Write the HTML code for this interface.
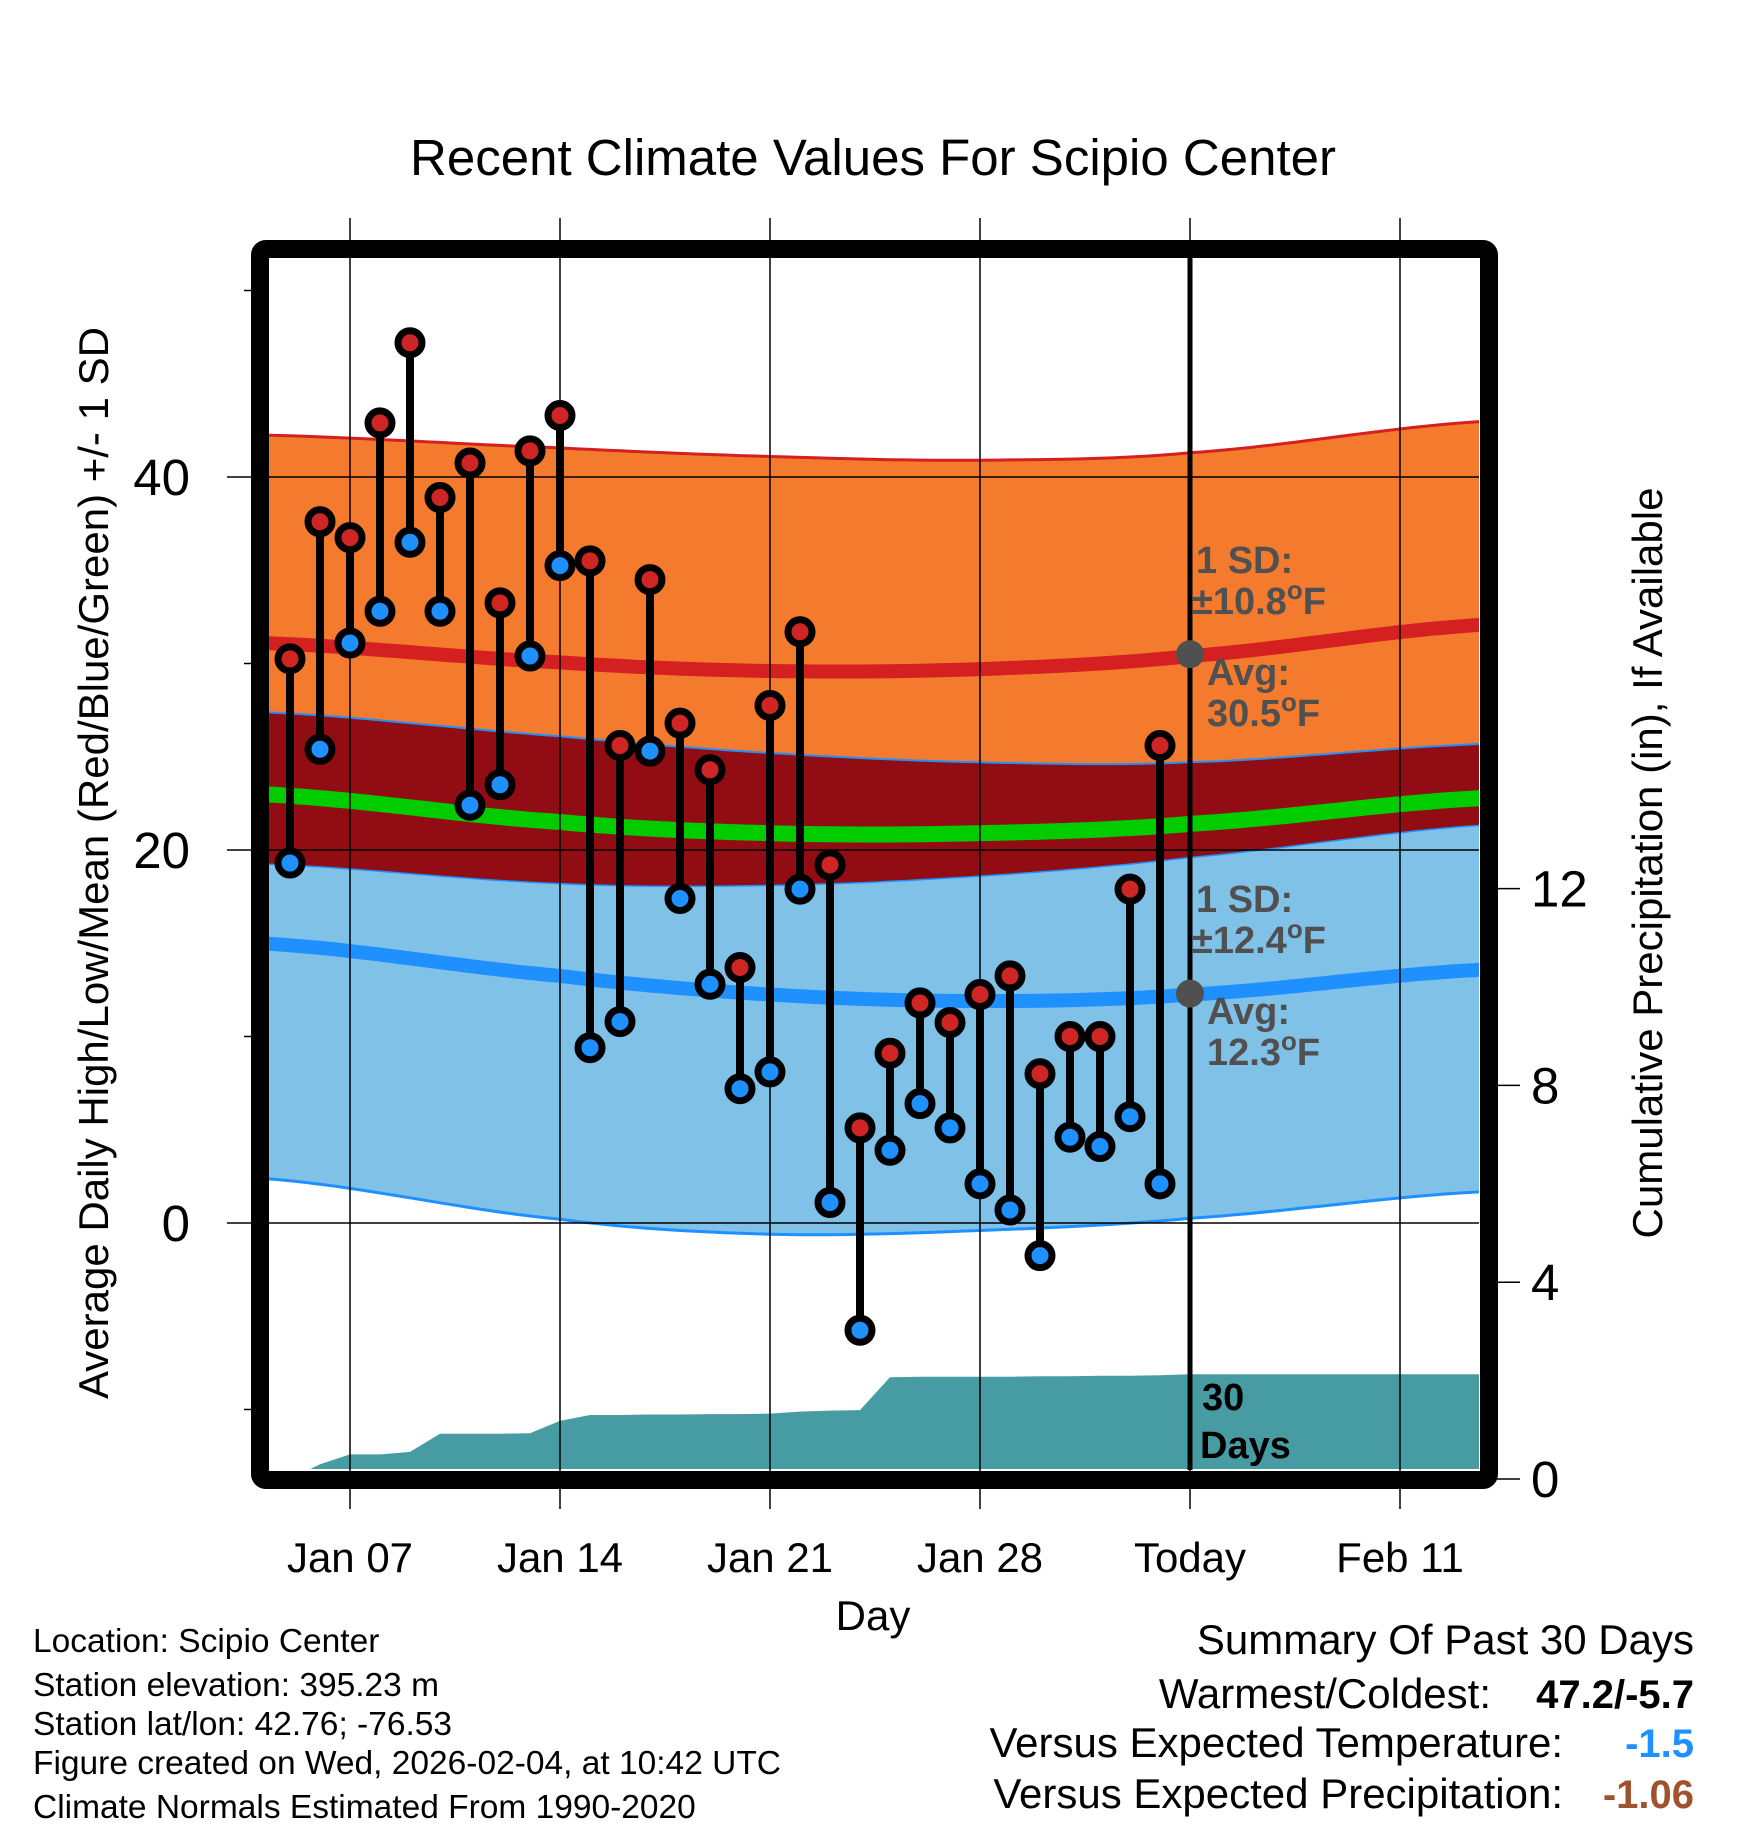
<!DOCTYPE html>
<html><head><meta charset="utf-8">
<style>
html,body{margin:0;padding:0;background:#fff;}
svg{display:block;font-family:"Liberation Sans",Arial,sans-serif;}
</style></head>
<body>
<svg id="chart" width="1748" height="1828" viewBox="0 0 1748 1828" xmlns="http://www.w3.org/2000/svg">
<defs><clipPath id="plotclip"><rect x="268" y="257" width="1211" height="1212"/></clipPath></defs>
<text x="873" y="175" font-size="51" text-anchor="middle">Recent Climate Values For Scipio Center</text>
<g id="plot" clip-path="url(#plotclip)"></g>
<g id="over"></g>
</svg>
<script>
// ---- data ----
const days = [5,6,7,8,9,10,11,12,13,14,15,16,17,18,19,20,21,22,23,24,25,26,27,28,29,30,31,32,33,34];
const highs = [30.25,37.6,36.75,42.9,47.2,38.9,40.75,33.25,41.4,43.3,35.5,25.6,34.5,26.8,24.3,13.7,27.75,31.7,19.2,5.1,9.1,11.8,10.75,12.25,13.25,8.0,10.0,10.0,17.9,25.6];
const lows = [19.3,25.4,31.1,32.8,36.5,32.8,22.4,23.5,30.4,35.25,9.4,10.8,25.3,17.4,12.8,7.2,8.1,17.9,1.1,-5.75,3.9,6.4,5.1,2.1,0.7,-1.75,4.6,4.1,5.7,2.1];
const precip = [0,0.3,0.5,0.5,0.55,0.92,0.92,0.92,0.93,1.18,1.3,1.3,1.31,1.31,1.32,1.32,1.33,1.37,1.39,1.4,2.07,2.08,2.08,2.08,2.08,2.09,2.09,2.1,2.1,2.11];
const precipTail = 2.13;
const normDays = [4,14,21,28,35,45];
const normHighAvg = [31.1,30.06,29.6,29.7,30.4,32.1];
const normHighTop = [42.25,41.56,41.1,40.9,41.3,43.0];
const normHighBot = [27.4,26.1,25.2,24.7,24.7,25.7];
const normLowAvg = [15.0,13.25,12.25,11.9,12.25,13.6];
const normLowTop = [19.25,18.2,18.1,18.6,19.6,21.35];
const normLowBot = [2.4,0.2,-0.6,-0.4,0.25,1.7];
const normMean = [23.0,21.5,20.9,20.9,21.4,22.8];
const xTickDays = [7,14,21,28,35,42];
const xTickLabels = ["Jan 07","Jan 14","Jan 21","Jan 28","Today","Feb 11"];
const yTicks = [0,20,40];
const yMinor = [-10,10,30,50];
const pTicks = [0,4,8,12];
const todayDay = 35;

// ---- axes ----
const X = d => 350 + (d-7)*30;
const Y = t => 1223 - t*18.65;
const P = p => 1479 - p*49.2;
const NS = "http://www.w3.org/2000/svg";
const plot = document.getElementById('plot');
const over = document.getElementById('over');
function mk(tag, attrs, parent){ const e=document.createElementNS(NS,tag); for(const k in attrs) e.setAttribute(k,attrs[k]); parent.appendChild(e); return e; }

function interp(arr){
  const pts=[];
  for(let d=4; d<=45.01; d+=0.5){
    let i=0; while(i<normDays.length-2 && d>normDays[i+1]) i++;
    const t=(d-normDays[i])/(normDays[i+1]-normDays[i]);
    const p0=arr[Math.max(i-1,0)],p1=arr[i],p2=arr[i+1],p3=arr[Math.min(i+2,arr.length-1)];
    const v=0.5*((2*p1)+(-p0+p2)*t+(2*p0-5*p1+4*p2-p3)*t*t+(-p0+3*p1-3*p2+p3)*t*t*t);
    pts.push([X(d),Y(v)]);
  }
  return pts;
}
const path = pts => pts.map((p,i)=>(i?'L':'M')+p[0].toFixed(1)+','+p[1].toFixed(1)).join(' ');
function band(a,b,fill,name){
  const A=interp(a), B=interp(b).reverse();
  const e=mk('path',{d:path(A.concat(B))+'Z',fill:fill},plot);
  
  
}
band(normHighTop,normHighBot,'#f47a2e','high-sd-band');
band(normHighBot,normLowTop,'#920c14','overlap-band');
band(normLowTop,normLowBot,'#80c1e8','low-sd-band');
function line(a,color,w,name){
  const e=mk('path',{d:path(interp(a)),fill:'none',stroke:color,'stroke-width':w},plot);
  
  
}
line(normHighTop,'#d42020',3,'high-plus-sd-line');
line(normHighBot,'#1e90ff',2,'high-minus-sd-line');
line(normLowTop,'#1e90ff',1.5,'low-plus-sd-line');
line(normLowBot,'#1e90ff',3,'low-minus-sd-line');
line(normHighAvg,'#d42020',14,'normal-high-line');
line(normLowAvg,'#1e90ff',14,'normal-low-line');
line(normMean,'#00cc00',16,'normal-mean-line');

// precip area
{
  let d='M'+X(days[0])+','+P(0);
  days.forEach((dd,i)=>{ d+=' L'+X(dd)+','+P(precip[i]).toFixed(1); });
  d+=' L'+X(todayDay)+','+P(precipTail)+' L1480,'+P(precipTail)+' L1480,'+P(0)+'Z';
  const e=mk('path',{d:d,fill:'#479ba3'},plot);
  
  
}

// grid
yTicks.forEach(t=>{
  const e=mk('line',{x1:227,x2:1479,y1:Y(t),y2:Y(t),stroke:'#000','stroke-width':1.5},over);
  
  
  const l=mk('text',{x:190,y:Y(t)+18,'font-size':51,'text-anchor':'end'},over);
  l.textContent=t;
  
  
});
yMinor.forEach(t=>{
  const e=mk('line',{x1:244,x2:260,y1:Y(t),y2:Y(t),stroke:'#000','stroke-width':1.5},over);
  
  
});
xTickDays.forEach((d,i)=>{
  const e=mk('line',{x1:X(d),x2:X(d),y1:218,y2:1509,stroke:'#000','stroke-width':1.5},over);
  
  
  const l=mk('text',{x:X(d),y:1572,'font-size':42,'text-anchor':'middle'},over);
  l.textContent=xTickLabels[i];
  
  
});
pTicks.forEach(p=>{
  const e=mk('line',{x1:1490,x2:1520,y1:P(p),y2:P(p),stroke:'#000','stroke-width':1.5},over);
  
  
  const l=mk('text',{x:1531,y:P(p)+18,'font-size':51},over);
  l.textContent=p;
  
  
});

// today line
{
  const e=mk('line',{x1:X(todayDay),x2:X(todayDay),y1:257,y2:1470,stroke:'#000','stroke-width':5},over);
  
  
}

// markers
days.forEach((d,i)=>{
  const s=mk('line',{x1:X(d),x2:X(d),y1:Y(highs[i]),y2:Y(lows[i]),stroke:'#000','stroke-width':8},over);
  
  
});
days.forEach((d,i)=>{
  const h=mk('circle',{cx:X(d),cy:Y(highs[i]),r:12,fill:'#d02525',stroke:'#000','stroke-width':7},over);
  
  
  const l=mk('circle',{cx:X(d),cy:Y(lows[i]),r:12,fill:'#1e90ff',stroke:'#000','stroke-width':7},over);
  
  
});

// frame
{
  const f=mk('rect',{x:260,y:249,width:1229,height:1231,rx:6,fill:'none',stroke:'#000','stroke-width':18},over);
  
  
}

// annotations
function txt(x,y,s,attrs,name){ const t=mk('text',Object.assign({x:x,y:y},attrs),over); t.innerHTML=s;   return t; }
const ann={'font-size':38,'font-weight':'bold',fill:'#505050'};
const deg='<tspan dy="-15" font-size="26">o</tspan><tspan dy="15">F</tspan>';
{
  const c1=mk('circle',{cx:X(todayDay),cy:Y(30.5),r:14,fill:'#505050'},over);
  
  
  const c2=mk('circle',{cx:X(todayDay),cy:Y(12.3),r:14,fill:'#505050'},over);
  
  
}
txt(1196,573,'1 SD:',ann,'high-sd-label');
txt(1192,614,'±10.8'+deg,ann,'high-sd-value');
txt(1207,685,'Avg:',ann,'high-avg-label');
txt(1207,726,'30.5'+deg,ann,'high-avg-value');
txt(1196,912,'1 SD:',ann,'low-sd-label');
txt(1192,953,'±12.4'+deg,ann,'low-sd-value');
txt(1207,1024,'Avg:',ann,'low-avg-label');
txt(1207,1065,'12.3'+deg,ann,'low-avg-value');
txt(1202,1410,'30',{'font-size':38,'font-weight':'bold'},'days-label-30');
txt(1200,1458,'Days',{'font-size':38,'font-weight':'bold'},'days-label');

// axis titles
txt(873,1630,'Day',{'font-size':42,'text-anchor':'middle'},'x-axis-title');
txt(0,0,'Average Daily High/Low/Mean (Red/Blue/Green) +/- 1 SD',{'font-size':42,'text-anchor':'middle',transform:'translate(108,863) rotate(-90)'},'y-axis-title');
txt(0,0,'Cumulative Precipitation (in), If Available',{'font-size':42,'text-anchor':'middle',transform:'translate(1662,863) rotate(-90)'},'y2-axis-title');

// footer
const fl={'font-size':33.5};
txt(33,1652,'Location: Scipio Center',fl,'location-text');
txt(33,1696,'Station elevation: 395.23 m',fl,'elevation-text');
txt(33,1735,'Station lat/lon: 42.76; -76.53',fl,'latlon-text');
txt(33,1774,'Figure created on Wed, 2026-02-04, at 10:42 UTC',fl,'created-text');
txt(33,1818,'Climate Normals Estimated From 1990-2020',fl,'normals-text');
const fr={'font-size':42,'text-anchor':'end'};
txt(1694,1654,'Summary Of Past 30 Days',fr,'summary-title');
txt(1491,1708,'Warmest/Coldest:',fr,'warmest-label');
txt(1694,1708,'47.2/-5.7',{'font-size':40,'text-anchor':'end','font-weight':'bold'},'warmest-value');
txt(1563,1757,'Versus Expected Temperature:',fr,'temp-departure-label');
txt(1694,1757,'-1.5',{'font-size':40,'text-anchor':'end','font-weight':'bold',fill:'#1e90ff'},'temp-departure-value');
txt(1563,1808,'Versus Expected Precipitation:',fr,'precip-departure-label');
txt(1694,1808,'-1.06',{'font-size':40,'text-anchor':'end','font-weight':'bold',fill:'#a0522d'},'precip-departure-value');
</script>
</body></html>
